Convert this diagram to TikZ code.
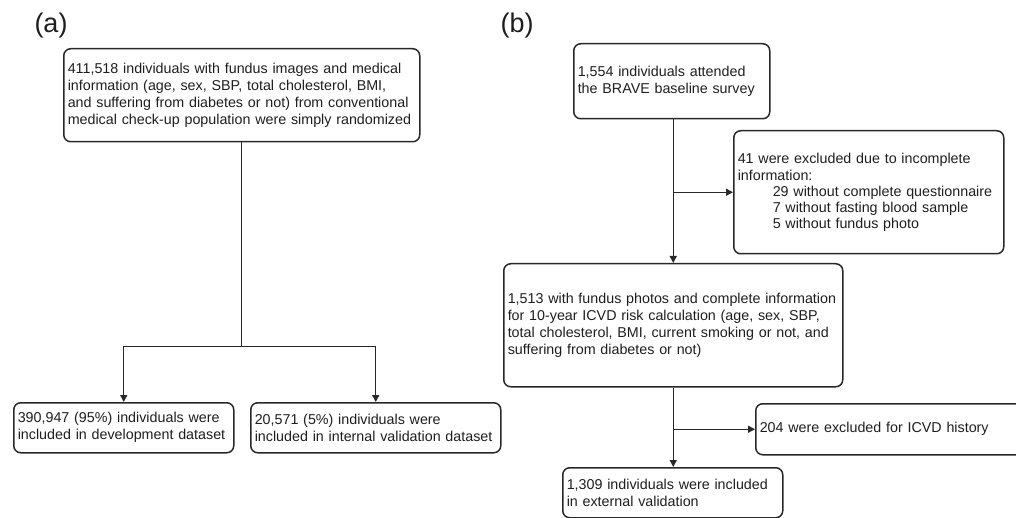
\documentclass[tikz,border=0pt]{standalone}
\usepackage{fontspec}
\setmainfont{Liberation Sans}
\usepackage{xcolor}
\definecolor{trazo}{RGB}{40, 40, 40}
\definecolor{letra}{RGB}{30, 30, 30}
\usetikzlibrary{calc, positioning, arrows.meta}

\begin{document}
\begin{tikzpicture}[
  x=1pt, y=-1pt,
  caja/.style={rectangle, rounded corners=7pt, draw=trazo, line width=1.5pt, text=letra, align=left, anchor=north west, inner xsep=4pt, inner ysep=2pt, font=\fontsize{14.3}{17}\selectfont},
  flecha/.style={-{Triangle[length=7pt, width=7pt]}, draw=trazo, line width=1.4pt},
  linea/.style={draw=trazo, line width=1.4pt},
  rotulo/.style={font=\fontsize{27}{30}\selectfont, text=letra}
]
  \useasboundingbox (0,0) rectangle (1016,518);
  \begin{scope}
  \clip (0,0) rectangle (1016,518);

  \node[rotulo] (la) at (51,26) {(a)};
  \node[rotulo] (lb) at (517,26) {(b)};

  \node[caja, text width=348pt, minimum height=93pt] (pob) at (63,48) {
    411,518 individuals with fundus images and medical\\
    information (age, sex, SBP, total cholesterol, BMI,\\
    and suffering from diabetes or not) from conventional\\
    medical check-up population were simply randomized
  };
  \node[caja, text width=212pt, minimum height=50pt] (dev) at (13,402) {
    390,947 (95\%) individuals were\\
    included in development dataset
  };
  \node[caja, text width=242pt, minimum height=50pt] (val) at (250,402) {
    20,571 (5\%) individuals were\\
    included in internal validation dataset
  };

  \coordinate (div) at ($(pob.south)+(0,204)$);
  \draw[linea] (pob.south) -- (div);
  \draw[flecha] (div) -| (dev.north);
  \draw[flecha] (div) -| (val.north);

  \node[caja, text width=188pt, minimum height=75pt] (brave) at (573,43) {
    1,554 individuals attended\\
    the BRAVE baseline survey
  };
  \node[caja, text width=262pt, minimum height=123pt] (excl) at (733,130) {
    41 were excluded due to incomplete\\
    information:\\[-1pt]
    \hspace*{35pt}29 without complete questionnaire\\[-1pt]
    \hspace*{35pt}7 without fasting blood sample\\[-1pt]
    \hspace*{35pt}5 without fundus photo
  };
  \node[caja, text width=331pt, minimum height=123pt] (icvd) at (503,263) {
    1,513 with fundus photos and complete information\\
    for 10-year ICVD risk calculation (age, sex, SBP,\\
    total cholesterol, BMI, current smoking or not, and\\
    suffering from diabetes or not)
  };
  \node[caja, text width=212pt, minimum height=50pt] (ext) at (562,467) {
    1,309 individuals were included\\
    in external validation
  };
  \node[caja, text width=282pt, minimum height=51pt] (hist) at (755,403) {
    204 were excluded for ICVD history
  };

  \draw[flecha] (brave.south -| icvd.north) -- (icvd.north);
  \draw[flecha] (excl.west -| icvd.north) -- (excl.west);
  \draw[flecha] (icvd.south) -- (icvd.south |- ext.north);
  \draw[flecha] (hist.west -| icvd.south) -- (hist.west);
  \end{scope}
\end{tikzpicture}
\end{document}
